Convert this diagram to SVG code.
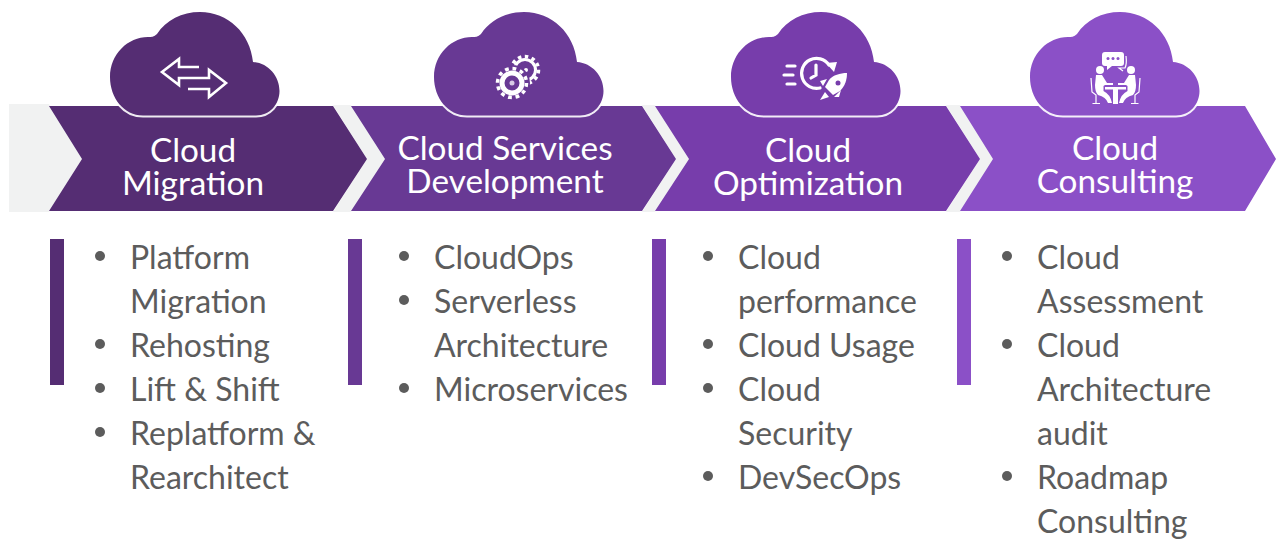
<svg xmlns="http://www.w3.org/2000/svg" width="1276" height="539" viewBox="0 0 1276 539">
<style>
.gap{fill:#f1f2f2}
.t{font-family:"Lato","Liberation Sans",sans-serif;font-size:33.300px;fill:#fff;text-anchor:middle}
.b{font-family:"Lato","Liberation Sans",sans-serif;font-size:32px;fill:#5c5c5c}
.dot{fill:#5c5c5c}
.cloud{stroke:#fff;stroke-opacity:.9;stroke-width:4;paint-order:stroke}
.ln{fill:none;stroke:#fff;stroke-width:2.6}
.th{fill:none;stroke:#fff;stroke-width:3.200;stroke-linecap:round}
.w{fill:#fff}
.thin{fill:none;stroke:#fff;stroke-width:1.200}
</style>
<defs>
<path id="cl" d="M143 115.500C124 115.500 110 98 110 77C110 54 128 37 148 37C151 37 154 37 157 34C166 20 182 12 200 12C228 12 250 33 253 62C268 63 279.500 76 279.500 91C279.500 104 270 115.500 256 115.500Z"/>
<circle id="d" r="5"/>
</defs>
<g id="gaps">
<polygon class="gap" points="9,104 49,104 82,159 49,212 9,212"/>
<polygon class="gap" points="333,105 351,105 385,159 351,212 333,212 367,159"/>
<polygon class="gap" points="642,105 655,105 689,159 655,212 642,212 676,159"/>
<polygon class="gap" points="946,105 960,105 994,159 960,212 946,212 980,159"/>
</g>
<g id="node-migration">
<polygon fill="#552d73" points="49,106 333,106 367,159 333,211 49,211 82,159"/>
<use href="#cl" class="cloud" fill="#552d73"/>
<path class="ln" d="M199 67H179V59L162 72L179 85V78H209V70L226 83L209 97V89H188"/>
<text class="t"><tspan x="193" y="162">Cloud</tspan><tspan x="193" y="195">Migration</tspan></text>
<rect x="50" y="239" width="14" height="146" fill="#552d73"/>
<g class="dot"><use href="#d" x="100" y="256"/><use href="#d" x="100" y="344"/><use href="#d" x="100" y="388"/><use href="#d" x="100" y="432"/></g>
<text class="b"><tspan x="130" y="269">Platform</tspan><tspan x="130" y="313">Migration</tspan><tspan x="130" y="357">Rehosting</tspan><tspan x="130" y="401">Lift &amp; Shift</tspan><tspan x="130" y="445">Replatform &amp;</tspan><tspan x="130" y="489">Rearchitect</tspan></text>
</g>
<g id="node-development">
<polygon fill="#683994" points="351,106 642,106 676,159 642,211 351,211 385,159"/>
<use href="#cl" x="324" class="cloud" fill="#683994"/>
<circle cx="525" cy="70" r="10.500" fill="none" stroke="#fff" stroke-width="3"/>
<circle cx="525" cy="70" r="13.500" fill="none" stroke="#fff" stroke-width="3.500" stroke-dasharray="3.500 3.500"/>
<circle cx="526" cy="70" r="2" class="w"/>
<circle cx="512" cy="83" r="18" fill="#683994"/>
<circle cx="512" cy="83" r="10" fill="none" stroke="#fff" stroke-width="5"/>
<circle cx="512" cy="83" r="14.500" fill="none" stroke="#fff" stroke-width="3.500" stroke-dasharray="3.800 3.800"/>
<circle cx="512" cy="83" r="2.500" fill="#d9cce6"/>
<text class="t"><tspan x="505" y="160">Cloud Services</tspan><tspan x="505" y="193">Development</tspan></text>
<rect x="348" y="239" width="14" height="146" fill="#683994"/>
<g class="dot"><use href="#d" x="404" y="256"/><use href="#d" x="404" y="300"/><use href="#d" x="404" y="388"/></g>
<text class="b"><tspan x="434" y="269">CloudOps</tspan><tspan x="434" y="313">Serverless</tspan><tspan x="434" y="357">Architecture</tspan><tspan x="434" y="401">Microservices</tspan></text>
</g>
<g id="node-optimization">
<polygon fill="#773dab" points="655,106 946,106 980,159 946,211 655,211 689,159"/>
<use href="#cl" x="621" class="cloud" fill="#773dab"/>
<path class="th" d="M787 66H795M784 75H793M787 84H795M816 65V75L811 78"/>
<path class="th" d="M829 65A15 15 0 1 0 820 88"/>
<polygon class="w" points="826,63 837,62 834,72"/>
<path class="w" d="M847 73C840 73 833 75 829 80L825 87L833 95L840 91C845 86 847 80 847 73Z"/>
<path class="w" d="M827 79L820 81L823 86ZM841 90L839 97L834 97ZM825 92L820 100L829 97Z"/>
<circle cx="838" cy="83" r="2.500" fill="#773dab"/>
<text class="t"><tspan x="808" y="162">Cloud</tspan><tspan x="808" y="195">Optimization</tspan></text>
<rect x="652" y="239" width="14" height="146" fill="#773dab"/>
<g class="dot"><use href="#d" x="708" y="256"/><use href="#d" x="708" y="344"/><use href="#d" x="708" y="388"/><use href="#d" x="708" y="476"/></g>
<text class="b"><tspan x="738" y="269">Cloud</tspan><tspan x="738" y="313">performance</tspan><tspan x="738" y="357">Cloud Usage</tspan><tspan x="738" y="401">Cloud</tspan><tspan x="738" y="445">Security</tspan><tspan x="738" y="489">DevSecOps</tspan></text>
</g>
<g id="node-consulting">
<polygon fill="#8b50c7" points="960,106 1245,106 1276,159 1245,211 960,211 993,159"/>
<use href="#cl" x="920" class="cloud" fill="#8b50c7"/>
<path class="w" d="M1105 52H1121Q1124 52 1124 55V63Q1124 66 1121 66H1112L1107 70V66H1105Q1102 66 1102 63V55Q1102 52 1105 52Z"/>
<g fill="#8b50c7"><circle cx="1108" cy="58.500" r="1.500"/><circle cx="1113" cy="58.500" r="1.500"/><circle cx="1118" cy="58.500" r="1.500"/></g>
<path d="M1126 56Q1127 64 1125 68H1119L1123 71" class="thin"/>
<circle class="w" cx="1100" cy="70" r="4"/><circle class="w" cx="1131" cy="70" r="4"/>
<path class="w" d="M1096 75H1102L1107 83H1113V85H1105L1103.500 86V91Q1110 94 1112 103H1108Q1106 97 1098 95Q1095 92 1095 85Z"/>
<path class="w" transform="translate(2231 0) scale(-1 1)" d="M1096 75H1102L1107 83H1113V85H1105L1103.500 86V91Q1110 94 1112 103H1108Q1106 97 1098 95Q1095 92 1095 85Z"/>
<rect class="w" x="1105" y="87" width="21" height="2.500"/><rect class="w" x="1113" y="89" width="5" height="15"/>
<path class="thin" d="M1091 78L1092 92L1096 95V103M1092.500 103.500H1100M1140 78L1139 92L1135 95V103M1131 103.500H1138.500"/>
<text class="t"><tspan x="1115" y="160">Cloud</tspan><tspan x="1115" y="193">Consulting</tspan></text>
<rect x="957" y="239" width="14" height="146" fill="#8b50c7"/>
<g class="dot"><use href="#d" x="1007" y="256"/><use href="#d" x="1007" y="344"/><use href="#d" x="1007" y="476"/></g>
<text class="b"><tspan x="1037" y="269">Cloud</tspan><tspan x="1037" y="313">Assessment</tspan><tspan x="1037" y="357">Cloud</tspan><tspan x="1037" y="401">Architecture</tspan><tspan x="1037" y="445">audit</tspan><tspan x="1037" y="489">Roadmap</tspan><tspan x="1037" y="533">Consulting</tspan></text>
</g>
<g id="connectors"/>
</svg>
